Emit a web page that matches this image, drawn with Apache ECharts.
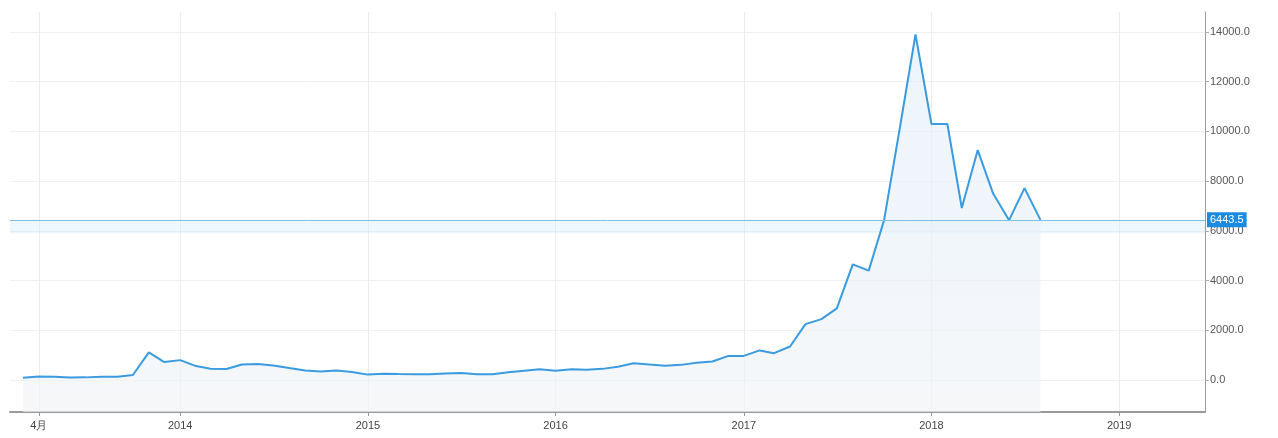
<!DOCTYPE html>
<html>
<head>
<meta charset="utf-8">
<script src="https://cdn.jsdelivr.net/npm/echarts@6/dist/echarts.min.js"></script>
<style>
html,body{margin:0;padding:0;background:#fff;}
#c{width:1278px;height:438px;}
</style>
</head>
<body>
<div id="c"></div>
<script>
// Monthly points (month start) and closing values
const months = [
 '2013-03-01','2013-04-01','2013-05-01','2013-06-01','2013-07-01','2013-08-01','2013-09-01','2013-10-01','2013-11-01','2013-12-01',
 '2014-01-01','2014-02-01','2014-03-01','2014-04-01','2014-05-01','2014-06-01','2014-07-01','2014-08-01','2014-09-01','2014-10-01','2014-11-01','2014-12-01',
 '2015-01-01','2015-02-01','2015-03-01','2015-04-01','2015-05-01','2015-06-01','2015-07-01','2015-08-01','2015-09-01','2015-10-01','2015-11-01','2015-12-01',
 '2016-01-01','2016-02-01','2016-03-01','2016-04-01','2016-05-01','2016-06-01','2016-07-01','2016-08-01','2016-09-01','2016-10-01','2016-11-01','2016-12-01',
 '2017-01-01','2017-02-01','2017-03-01','2017-04-01','2017-05-01','2017-06-01','2017-07-01','2017-08-01','2017-09-01','2017-10-01','2017-11-01','2017-12-01',
 '2018-01-01','2018-02-01','2018-03-01','2018-04-01','2018-05-01','2018-06-01','2018-07-01','2018-08-01'
];
const closes = [
 93,139,129,97,106,135,133,200,1113,720,
 800,560,455,445,625,640,585,480,385,338,378,320,
 217,254,244,236,230,263,284,230,236,314,377,430,
 368,437,416,448,531,673,624,573,609,698,742,963,
 970,1190,1080,1348,2250,2450,2880,4650,4400,6440,10200,13900,
 10300,10300,6920,9250,7500,6430,7720,6443.5
];
const lastPrice = 6443.5;
const yTicks = [0,2000,4000,6000,8000,10000,12000,14000];
const xTicks = ['2013-04-01','2014-01-01','2015-01-01','2016-01-01','2017-01-01','2018-01-01','2019-01-01'];

const ts = s => new Date(s + 'T00:00:00').getTime();
const xTickValues = xTicks.map(ts);
const seriesData = months.map((m, i) => [ts(m), closes[i]]);

const chart = echarts.init(document.getElementById('c'), null, {renderer: 'canvas'});
chart.setOption({
  animation: false,
  backgroundColor: '#ffffff',
  grid: {left: 10, right: 73, top: 12, bottom: 26, containLabel: false, show: false},
  xAxis: {
    type: 'value',
    min: ts('2013-02-04'),
    max: ts('2019-06-17'),
    axisLine: {show: true, onZero: false, lineStyle: {color: '#9a9a9a', width: 2}},
    axisTick: {show: true, customValues: xTickValues, length: 4, lineStyle: {color: '#999'}},
    axisLabel: {
      customValues: xTickValues,
      color: '#444', fontSize: 11, fontFamily: 'Liberation Sans, Arial, sans-serif', margin: 8,
      formatter: function (v) {
        const d = new Date(v);
        return d.getMonth() === 0 ? String(d.getFullYear()) : (d.getMonth() + 1) + '月';
      }
    },
    splitLine: {show: true, lineStyle: {color: '#ececec', width: 1}}
  },
  yAxis: {
    type: 'value',
    position: 'right',
    min: -1287,
    max: 14805,
    axisLine: {show: true, onZero: false, lineStyle: {color: '#9a9a9a', width: 1}},
    axisTick: {show: true, customValues: yTicks, length: 4, lineStyle: {color: '#aaa'}},
    axisLabel: {
      customValues: yTicks,
      color: '#555', fontSize: 11, fontFamily: 'Liberation Sans, Arial, sans-serif', margin: 5,
      formatter: v => Number(v).toFixed(1)
    },
    splitLine: {show: true, lineStyle: {color: '#f0f0f0', width: 1}}
  },
  series: [{
    type: 'line',
    data: seriesData,
    showSymbol: false,
    smooth: false,
    lineStyle: {color: '#3a9be0', width: 2},
    itemStyle: {color: '#3a9be0'},
    areaStyle: {
      origin: 'start',
      color: new echarts.graphic.LinearGradient(0, 0, 0, 1, [
        {offset: 0, color: 'rgba(225,238,250,0.9)'},
        {offset: 1, color: 'rgba(240,243,246,0.9)'}
      ])
    },
    markArea: {
      silent: true,
      itemStyle: {color: 'rgba(200,236,252,0.35)'},
      data: [[{yAxis: lastPrice}, {yAxis: lastPrice - 550}]]
    },
    markLine: {
      silent: true,
      symbol: ['none', 'none'],
      lineStyle: {color: '#7cc3ea', width: 1, type: 'solid'},
      label: {
        show: true, position: 'end', distance: 2,
        formatter: () => lastPrice.toFixed(1),
        color: '#fff', backgroundColor: '#1a8be0', padding: [2, 3, 2, 3],
        fontSize: 11, fontFamily: 'Liberation Sans, Arial, sans-serif'
      },
      data: [{yAxis: lastPrice}]
    }
  }]
});
</script>
</body>
</html>
